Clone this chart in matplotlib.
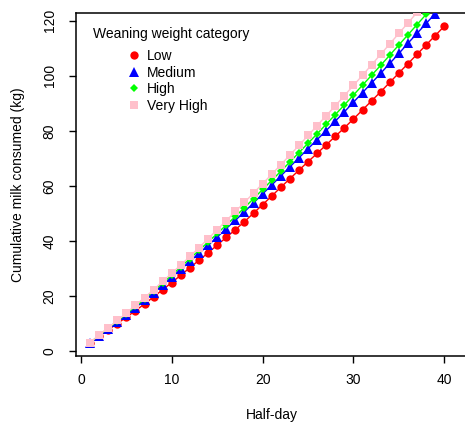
import matplotlib
matplotlib.use("Agg")
import matplotlib.pyplot as plt
from matplotlib.lines import Line2D

plt.rcParams['font.family'] = ['Liberation Sans', 'DejaVu Sans']

half_day = list(range(1, 41))

low = [3.0, 5.4, 7.7, 10.0, 12.3, 14.7, 17.1, 19.7, 22.3, 24.9,
       27.6, 30.3, 33.0, 35.7, 38.5, 41.3, 44.1, 47.0, 50.1, 53.2,
       56.3, 59.5, 62.6, 65.7, 68.8, 71.8, 74.9, 78.0, 81.1, 84.3,
       87.6, 90.9, 94.2, 97.6, 101.0, 104.4, 107.8, 111.2, 114.6, 118.0]

medium = [3.0, 5.6, 8.1, 10.6, 13.1, 15.8, 18.4, 21.2, 24.0, 26.8,
          29.7, 32.6, 35.5, 38.4, 41.4, 44.5, 47.5, 50.6, 53.8, 57.1,
          60.3, 63.6, 66.9, 70.2, 73.5, 76.8, 80.1, 83.5, 86.9, 90.4,
          93.9, 97.4, 100.9, 104.5, 108.1, 111.8, 115.4, 119.0, 122.6, 126.2]

high = [3.0, 5.7, 8.3, 10.9, 13.5, 16.2, 18.9, 21.8, 24.7, 27.6,
        30.6, 33.6, 36.6, 39.6, 42.7, 45.8, 48.9, 52.1, 55.4, 58.7,
        62.0, 65.3, 68.7, 72.1, 75.5, 78.9, 82.4, 85.9, 89.4, 93.0,
        96.6, 100.2, 103.8, 107.5, 111.2, 114.9, 118.6, 122.3, 126.0, 129.7]

very_high = [3.0, 5.9, 8.4, 11.1, 13.8, 16.7, 19.4, 22.3, 25.3, 28.3,
             31.3, 34.4, 37.6, 40.8, 44.1, 47.4, 50.7, 54.0, 57.4, 60.8,
             64.2, 67.7, 71.2, 74.7, 78.3, 81.9, 85.5, 89.1, 92.8, 96.5,
             100.2, 104.0, 107.8, 111.6, 115.4, 119.2, 123.0, 126.9, 130.8, 134.7]

series_names = ["Low", "Medium", "High", "Very High"]
series_values = [low, medium, high, very_high]
series_colors = ["#FF0000", "#0000FF", "#00FF00", "#FFC0CB"]
series_markers = ["o", "^", "D", "s"]
series_sizes = [6.0, 7.0, 4.2, 6.0]

x_ticks = [0, 10, 20, 30, 40]
y_ticks = [0, 20, 40, 60, 80, 100, 120]

W, H = 465, 423
fig = plt.figure(figsize=(W / 100, H / 100), dpi=100)
ax = fig.add_axes([76 / W, (H - 356) / H, (467 - 76) / W, (356 - 13) / H])

for vals, col, mk, ms in zip(series_values, series_colors, series_markers, series_sizes):
    ax.plot(half_day, vals, color=col, lw=1.0, marker=mk, markersize=ms,
            markeredgewidth=0, zorder=3)

ax.set_xlim(-0.55, 42.5)
ax.set_ylim(-1.8, 122.8)
ax.set_xticks(x_ticks)
ax.set_yticks(y_ticks)
ax.set_xticklabels([str(t) for t in x_ticks])
ax.set_yticklabels([str(t) for t in y_ticks], rotation=90, va='center')

for s in ax.spines.values():
    s.set_linewidth(1.1)
ax.tick_params(axis='both', direction='out', length=5, width=1.0,
               labelsize=10, colors='black')
ax.tick_params(axis='x', pad=7)
ax.tick_params(axis='y', pad=9)

ax.set_xlabel("Half-day", fontsize=10, va='center')
ax.xaxis.set_label_coords(0.5, (356 - 415) / 343)
ax.set_ylabel("Cumulative milk consumed (kg)", fontsize=10, va='center')
ax.yaxis.set_label_coords((18 - 76) / 391, 0.5)

handles = [Line2D([], [], color=c, marker=m, markersize=s, linestyle='none',
                  markeredgewidth=0)
           for c, m, s in zip(series_colors, series_markers, series_sizes)]
fig.text(93 / W, 1 - 34 / H, "Weaning weight category", fontsize=10,
         ha='left', va='center')
ax.legend(handles, series_names, loc='upper left',
          bbox_to_anchor=(128 / W, 1 - 49 / H), bbox_transform=fig.transFigure,
          frameon=False, fontsize=10, handlelength=0.8, handletextpad=0.55,
          labelspacing=0.18, borderpad=0, borderaxespad=0)

fig.savefig("out.png", dpi=100)
